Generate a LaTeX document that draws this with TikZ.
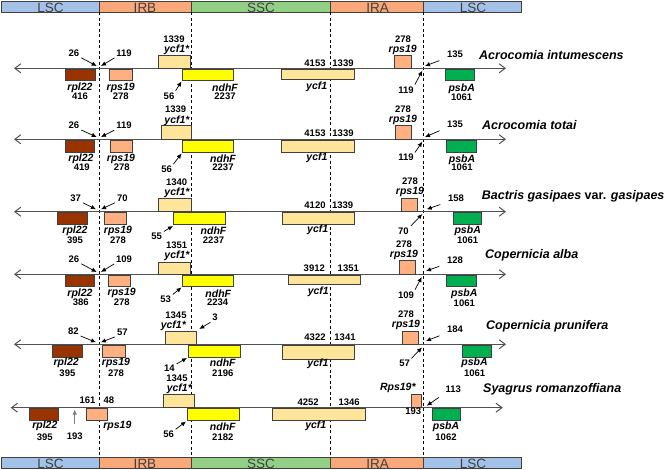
\documentclass[tikz,border=0pt]{standalone}
\usepackage{fontspec}
\setmainfont{Liberation Sans}
\usetikzlibrary{arrows.meta}

\definecolor{lscblue}{RGB}{164,194,232}
\definecolor{irorange}{RGB}{249,168,122}
\definecolor{sscgreen}{RGB}{146,208,134}
\definecolor{rplbrown}{RGB}{153,51,0}
\definecolor{rpssalmon}{RGB}{255,176,128}
\definecolor{ycftan}{RGB}{255,229,153}
\definecolor{ndhyellow}{RGB}{255,255,0}
\definecolor{psbgreen}{RGB}{0,176,80}
\definecolor{boxline}{RGB}{64,64,64}
\definecolor{axisgray}{RGB}{80,80,80}

\tikzset{
  num/.style={font=\fontsize{9.5}{10}\selectfont\bfseries, inner sep=0pt},
  gene/.style={font=\fontsize{10.5}{11}\selectfont\bfseries\itshape, inner sep=0pt},
  sp/.style={font=\fontsize{12.5}{13}\selectfont\bfseries\itshape, anchor=west, inner sep=0pt},
  barlbl/.style={font=\fontsize{13.5}{13.5}\selectfont, text=boxline, inner sep=0pt},
  region/.style={draw=boxline, fill=#1, line width=0.8pt},
  genebox/.style={draw=boxline, fill=#1, line width=1pt},
  pt/.style={-{Latex[length=5pt,width=4.5pt]}, line width=0.7pt, shorten <=2pt},
  axis/.style={{Straight Barb[length=6pt,width=9pt]}-{Straight Barb[length=6pt,width=9pt]}, draw=axisgray, line width=1pt},
  border/.style={dash pattern=on 3pt off 2.5pt, line width=0.6pt}
}

\begin{document}
\begin{tikzpicture}[x=1pt,y=-1pt]
\useasboundingbox (0,0) rectangle (669,470);

% region bars
\draw[region=lscblue] (1,1) rectangle (99.3,12.3);
\draw[region=irorange] (99.3,1) rectangle (191.7,12.3);
\draw[region=sscgreen] (191.7,1) rectangle (330.7,12.3);
\draw[region=irorange] (330.7,1) rectangle (423.3,12.3);
\draw[region=lscblue] (423.3,1) rectangle (521.5,12.3);
\node[barlbl] (tLSCa) at (50.4,7.4) {LSC};
\node[barlbl] (tIRB) at (145,7.4) {IRB};
\node[barlbl] (tSSC) at (261,7.4) {SSC};
\node[barlbl] (tIRA) at (377.7,7.4) {IRA};
\node[barlbl] (tLSCb) at (473,7.4) {LSC};

\draw[region=lscblue] (1,457.3) rectangle (99.3,468.7);
\draw[region=irorange] (99.3,457.3) rectangle (191.7,468.7);
\draw[region=sscgreen] (191.7,457.3) rectangle (330.7,468.7);
\draw[region=irorange] (330.7,457.3) rectangle (423.3,468.7);
\draw[region=lscblue] (423.3,457.3) rectangle (521.5,468.7);
\node[barlbl] (bLSCa) at (50.4,463.7) {LSC};
\node[barlbl] (bIRB) at (145,463.7) {IRB};
\node[barlbl] (bSSC) at (261,463.7) {SSC};
\node[barlbl] (bIRA) at (377.7,463.7) {IRA};
\node[barlbl] (bLSCb) at (473,463.7) {LSC};

% junctions
\draw[border] (99.3,12.3) -- (99.3,457.3);
\draw[border] (191.7,12.3) -- (191.7,457.3);
\draw[border] (330.7,12.3) -- (330.7,457.3);
\draw[border] (423.3,12.3) -- (423.3,457.3);

% Acrocomia intumescens
\coordinate (a1l) at (14,68.3); \coordinate (a1r) at (506,68.3);
\draw[axis] (a1l) -- (a1r);
\draw[genebox=rplbrown] (65.3,69.3) rectangle (95.7,81);
\draw[genebox=rpssalmon] (109.3,69.3) rectangle (132,81);
\draw[genebox=ycftan] (158.7,56) rectangle (190.7,68.3);
\draw[genebox=ndhyellow] (182.3,69.3) rectangle (233.3,81);
\draw[genebox=ycftan] (281.7,69.3) rectangle (354,80);
\draw[genebox=rpssalmon] (394,56) rectangle (411,68.3);
\draw[genebox=psbgreen] (445.3,69.3) rectangle (474.3,81);
\node[num] (a1n1) at (74,53.3) {26};
\node[num] (a1n2) at (124,53.3) {119};
\node[num] (a1n3) at (174,39.7) {1339};
\node[gene] (a1g1) at (176.7,50) {ycf1*};
\node[num] (a1n4) at (169,96) {56};
\node[gene] (a1g2) at (80,87.7) {rpl22};
\node[num] (a1n5) at (80,96.5) {416};
\node[gene] (a1g3) at (120.7,87.7) {rps19};
\node[num] (a1n6) at (120.7,96.5) {278};
\node[gene] (a1g4) at (225,87.7) {ndhF};
\node[num] (a1n7) at (225,96.5) {2237};
\node[num] (a1n8) at (315,63.3) {4153};
\node[num] (a1n9) at (343,63.3) {1339};
\node[gene] (a1g5) at (316.7,86.7) {ycf1};
\node[num] (a1n10) at (403,39.7) {278};
\node[gene] (a1g6) at (402.7,50) {rps19};
\node[num] (a1n11) at (455,54.3) {135};
\node[num] (a1n12) at (406,90) {119};
\node[gene] (a1g7) at (461.7,89) {psbA};
\node[num] (a1n13) at (461.7,97) {1061};
\node[sp] (a1sp) at (479,55) {Acrocomia intumescens};
\coordinate (a1t1) at (96.7,66); \coordinate (a1t2) at (101,66);
\coordinate (a1t3) at (181.5,81.5); \coordinate (a1t4) at (425,66);
\coordinate (a1t5) at (422.3,70.7);
\draw[pt] (a1n1.south east) -- (a1t1);
\draw[pt] (a1n2.south west) -- (a1t2);
\draw[pt] (a1n4.north east) -- (a1t3);
\draw[pt, shorten <=8pt] (a1n11.south west) -- (a1t4);
\draw[pt] (a1n12.north east) -- (a1t5);

% Acrocomia totai
\coordinate (a2l) at (14,139.3); \coordinate (a2r) at (506,139.3);
\draw[axis] (a2l) -- (a2r);
\draw[genebox=rplbrown] (65.3,140.3) rectangle (94.7,152.7);
\draw[genebox=rpssalmon] (110,140.3) rectangle (132,152.7);
\draw[genebox=ycftan] (161,125.7) rectangle (191.7,139.3);
\draw[genebox=ndhyellow] (182,140.3) rectangle (233.3,152.7);
\draw[genebox=ycftan] (281.7,140.3) rectangle (354,152.7);
\draw[genebox=rpssalmon] (395,126) rectangle (411.7,139.3);
\draw[genebox=psbgreen] (446.7,140.3) rectangle (476,152.7);
\node[num] (a2n1) at (74,125.7) {26};
\node[num] (a2n2) at (124,125.7) {119};
\node[num] (a2n3) at (175.7,109.7) {1339};
\node[gene] (a2g1) at (177,121) {ycf1*};
\node[num] (a2n4) at (166.7,169.3) {56};
\node[gene] (a2g2) at (81,158.5) {rpl22};
\node[num] (a2n5) at (81.7,167.3) {419};
\node[gene] (a2g3) at (121,158.5) {rps19};
\node[num] (a2n6) at (121.7,167.3) {278};
\node[gene] (a2g4) at (223,158.5) {ndhF};
\node[num] (a2n7) at (223,167.3) {2237};
\node[num] (a2n8) at (315,133.3) {4153};
\node[num] (a2n9) at (343,133.3) {1339};
\node[gene] (a2g5) at (317,157.5) {ycf1};
\node[num] (a2n10) at (403,109.7) {278};
\node[gene] (a2g6) at (403,120) {rps19};
\node[num] (a2n11) at (455,124) {135};
\node[num] (a2n12) at (406,157.7) {119};
\node[gene] (a2g7) at (462,159.3) {psbA};
\node[num] (a2n13) at (462,167.5) {1061};
\node[sp] (a2sp) at (482,125) {Acrocomia totai};
\coordinate (a2t1) at (96.7,137); \coordinate (a2t2) at (101,137);
\coordinate (a2t3) at (181.5,153.5); \coordinate (a2t4) at (425,137);
\coordinate (a2t5) at (422.3,141.7);
\draw[pt] (a2n1.south east) -- (a2t1);
\draw[pt] (a2n2.south west) -- (a2t2);
\draw[pt] (a2n4.north east) -- (a2t3);
\draw[pt, shorten <=8pt] (a2n11.south west) -- (a2t4);
\draw[pt] (a2n12.north east) -- (a2t5);

% Bactris gasipaes var. gasipaes
\coordinate (b3l) at (14,211.7); \coordinate (b3r) at (506,211.7);
\draw[axis] (b3l) -- (b3r);
\draw[genebox=rplbrown] (57.3,212.7) rectangle (87.3,225);
\draw[genebox=rpssalmon] (104.7,212.7) rectangle (126.7,225);
\draw[genebox=ycftan] (158.3,199) rectangle (191,211.7);
\draw[genebox=ndhyellow] (173.7,212.7) rectangle (225.3,225);
\draw[genebox=ycftan] (282,212.7) rectangle (354,225);
\draw[genebox=rpssalmon] (401.7,198.3) rectangle (417.7,211.7);
\draw[genebox=psbgreen] (453.3,212.7) rectangle (481.7,225);
\node[num] (b3n1) at (75.7,198.3) {37};
\node[num] (b3n2) at (122.3,198.3) {70};
\node[num] (b3n3) at (176.7,182.3) {1340};
\node[gene] (b3g1) at (177,192.7) {ycf1*};
\node[num] (b3n4) at (156.7,236) {55};
\node[gene] (b3g2) at (75,231) {rpl22};
\node[num] (b3n5) at (75,240) {395};
\node[gene] (b3g3) at (118,231) {rps19};
\node[num] (b3n6) at (118,240) {278};
\node[gene] (b3g4) at (213.5,231) {ndhF};
\node[num] (b3n7) at (213.5,240) {2237};
\node[num] (b3n8) at (315,205) {4120};
\node[num] (b3n9) at (342.7,205) {1339};
\node[gene] (b3g5) at (317.7,230) {ycf1};
\node[num] (b3n10) at (410,181.7) {278};
\node[gene] (b3g6) at (410,191.7) {rps19};
\node[num] (b3n11) at (456,198.3) {158};
\node[num] (b3n12) at (403.3,231.7) {70};
\node[gene] (b3g7) at (467.7,231) {psbA};
\node[num] (b3n13) at (467.7,240) {1061};
\node[sp] (b3sp) at (481.7,196.7) {Bactris gasipaes {\upshape var.} gasipaes};
\coordinate (b3t1) at (96,209.3); \coordinate (b3t2) at (101,209.3);
\coordinate (b3t3) at (173,226); \coordinate (b3t4) at (426.7,209.3);
\coordinate (b3t5) at (422.3,214);
\draw[pt] (b3n1.south east) -- (b3t1);
\draw[pt] (b3n2.south west) -- (b3t2);
\draw[pt] (b3n4.north east) -- (b3t3);
\draw[pt, shorten <=8pt] (b3n11.south west) -- (b3t4);
\draw[pt, shorten <=3pt] (b3n12.north east) -- (b3t5);

% Copernicia alba
\coordinate (c4l) at (14,274.3); \coordinate (c4r) at (506,274.3);
\draw[axis] (c4l) -- (c4r);
\draw[genebox=rplbrown] (65.3,275.3) rectangle (94.7,286.7);
\draw[genebox=rpssalmon] (108.3,275.3) rectangle (130.3,286.7);
\draw[genebox=ycftan] (158.7,262.3) rectangle (190.7,274.3);
\draw[genebox=ndhyellow] (182.3,275.3) rectangle (233.3,286.7);
\draw[genebox=ycftan] (288.3,275.3) rectangle (360,285);
\draw[genebox=rpssalmon] (399,261) rectangle (415.7,274.3);
\draw[genebox=psbgreen] (446.7,275.3) rectangle (476,287);
\node[num] (c4n1) at (74,259.3) {26};
\node[num] (c4n2) at (124,259.3) {109};
\node[num] (c4n3) at (176.7,245.2) {1351};
\node[gene] (c4g1) at (177,255.5) {ycf1*};
\node[num] (c4n4) at (165.7,299.3) {53};
\node[gene] (c4g2) at (80,293.3) {rpl22};
\node[num] (c4n5) at (80.7,302.3) {386};
\node[gene] (c4g3) at (121.7,293.3) {rps19};
\node[num] (c4n6) at (121.7,302.3) {278};
\node[gene] (c4g4) at (218.3,293.3) {ndhF};
\node[num] (c4n7) at (217.7,302.3) {2234};
\node[num] (c4n8) at (314.3,268.3) {3912};
\node[num] (c4n9) at (348.3,268.3) {1351};
\node[gene] (c4g5) at (318.3,292) {ycf1};
\node[num] (c4n10) at (404,244.5) {278};
\node[gene] (c4g6) at (404,255) {rps19};
\node[num] (c4n11) at (455,260) {128};
\node[num] (c4n12) at (406,295) {109};
\node[gene] (c4g7) at (464.3,294) {psbA};
\node[num] (c4n13) at (464.3,303) {1061};
\node[sp] (c4sp) at (485,255) {Copernicia alba};
\coordinate (c4t1) at (96.7,272); \coordinate (c4t2) at (101,272);
\coordinate (c4t3) at (181.5,287.5); \coordinate (c4t4) at (426,271);
\coordinate (c4t5) at (421.7,277);
\draw[pt] (c4n1.south east) -- (c4t1);
\draw[pt] (c4n2.south west) -- (c4t2);
\draw[pt] (c4n4.north east) -- (c4t3);
\draw[pt, shorten <=8pt] (c4n11.south west) -- (c4t4);
\draw[pt] (c4n12.north east) -- (c4t5);

% Copernicia prunifera
\coordinate (c5l) at (14,344.3); \coordinate (c5r) at (506,344.3);
\draw[axis] (c5l) -- (c5r);
\draw[genebox=rplbrown] (52.3,345.3) rectangle (82.3,357.7);
\draw[genebox=rpssalmon] (102.3,345.3) rectangle (125.3,357.7);
\draw[genebox=ycftan] (165.7,331) rectangle (196,344.3);
\draw[genebox=ndhyellow] (188.7,345.3) rectangle (240,357.7);
\draw[genebox=ycftan] (282.7,345.3) rectangle (354,359);
\draw[genebox=rpssalmon] (402.7,331.7) rectangle (418.7,344.3);
\draw[genebox=psbgreen] (462.3,345.3) rectangle (491,357.7);
\node[num] (c5n1) at (73.3,331.7) {82};
\node[num] (c5n2) at (122.3,332.7) {57};
\node[num] (c5n3) at (176,315) {1345};
\node[gene] (c5g1) at (173.3,325.7) {ycf1*};
\node[num] (c5n4) at (215,317.7) {3};
\node[num] (c5n5) at (169.4,368.3) {14};
\node[gene] (c5g2) at (66.2,363) {rpl22};
\node[num] (c5n6) at (67.4,373.5) {395};
\node[gene] (c5g3) at (116,363) {rps19};
\node[num] (c5n7) at (116,373.5) {278};
\node[gene] (c5g4) at (222.8,363) {ndhF};
\node[num] (c5n8) at (222.8,373.5) {2196};
\node[num] (c5n9) at (315,337.7) {4322};
\node[num] (c5n10) at (345,337.7) {1341};
\node[gene] (c5g5) at (318,364) {ycf1};
\node[num] (c5n11) at (406,314.5) {278};
\node[gene] (c5g6) at (406,325) {rps19};
\node[num] (c5n12) at (455,329.3) {184};
\node[num] (c5n13) at (404.6,363.3) {57};
\node[gene] (c5g7) at (474.6,363) {psbA};
\node[num] (c5n14) at (474.6,373.5) {1061};
\node[sp] (c5sp) at (486,326) {Copernicia prunifera};
\coordinate (c5t1) at (96,342.3); \coordinate (c5t2) at (100.8,342.3);
\coordinate (c5t3) at (199.3,329); \coordinate (c5t4) at (187,358);
\coordinate (c5t5) at (426,341); \coordinate (c5t6) at (422,347.5);
\draw[pt] (c5n1.south east) -- (c5t1);
\draw[pt] (c5n2.south west) -- (c5t2);
\draw[pt] (c5n4.south west) -- (c5t3);
\draw[pt] (c5n5.north east) -- (c5t4);
\draw[pt, shorten <=8pt] (c5n12.south west) -- (c5t5);
\draw[pt] (c5n13.north east) -- (c5t6);

% Syagrus romanzoffiana
\coordinate (s6l) at (10.7,407.7); \coordinate (s6r) at (502.8,407.7);
\draw[axis] (s6l) -- (s6r);
\draw[genebox=rplbrown] (29.9,408.7) rectangle (58.9,420.7);
\draw[genebox=rpssalmon] (86.6,408.7) rectangle (107.6,420.7);
\draw[genebox=ycftan] (163.5,394.3) rectangle (194.6,407.7);
\draw[genebox=ndhyellow] (187.8,408.7) rectangle (239.4,420.7);
\draw[genebox=ycftan] (272.7,408.7) rectangle (365.3,420.7);
\draw[genebox=rpssalmon] (411.9,394.3) rectangle (421.7,407.7);
\draw[genebox=psbgreen] (432.4,408.7) rectangle (460.1,420.7);
\node[num] (s6n1) at (87.5,400) {161};
\node[num] (s6n2) at (108.8,400) {48};
\node[num] (s6n3) at (74.7,436.7) {193};
\node[gene] (s6g1) at (44.8,425.5) {rpl22};
\node[num] (s6n4) at (44.8,437.5) {395};
\node[gene] (s6g2) at (117.4,425.5) {rps19};
\node[num] (s6n5) at (177,378.5) {1345};
\node[gene] (s6g3) at (179.3,388.5) {ycf1*};
\node[num] (s6n6) at (168.6,434) {56};
\node[gene] (s6g4) at (222.8,426.7) {ndhF};
\node[num] (s6n7) at (222.8,437.7) {2182};
\node[num] (s6n8) at (308.2,402.7) {4252};
\node[num] (s6n9) at (349.1,402.7) {1346};
\node[gene] (s6g5) at (315.8,426) {ycf1};
\node[gene] (s6g6) at (397.8,388.3) {Rps19*};
\node[num] (s6n10) at (453.3,389.3) {113};
\node[num] (s6n11) at (413.2,411.7) {193};
\node[gene] (s6g7) at (446,426.7) {psbA};
\node[num] (s6n12) at (446,437.7) {1062};
\node[sp] (s6sp) at (483,389) {Syagrus romanzoffiana};
\coordinate (s6t1) at (74.7,409.5); \coordinate (s6t2) at (186,421.5);
\coordinate (s6t3) at (426.8,405.7);
\draw[pt, draw=gray, fill=gray, shorten <=9pt] (s6n3.north) -- (s6t1);
\draw[pt] (s6n6.north east) -- (s6t2);
\draw[pt, shorten <=8pt] (s6n10.south west) -- (s6t3);

\end{tikzpicture}
\end{document}
